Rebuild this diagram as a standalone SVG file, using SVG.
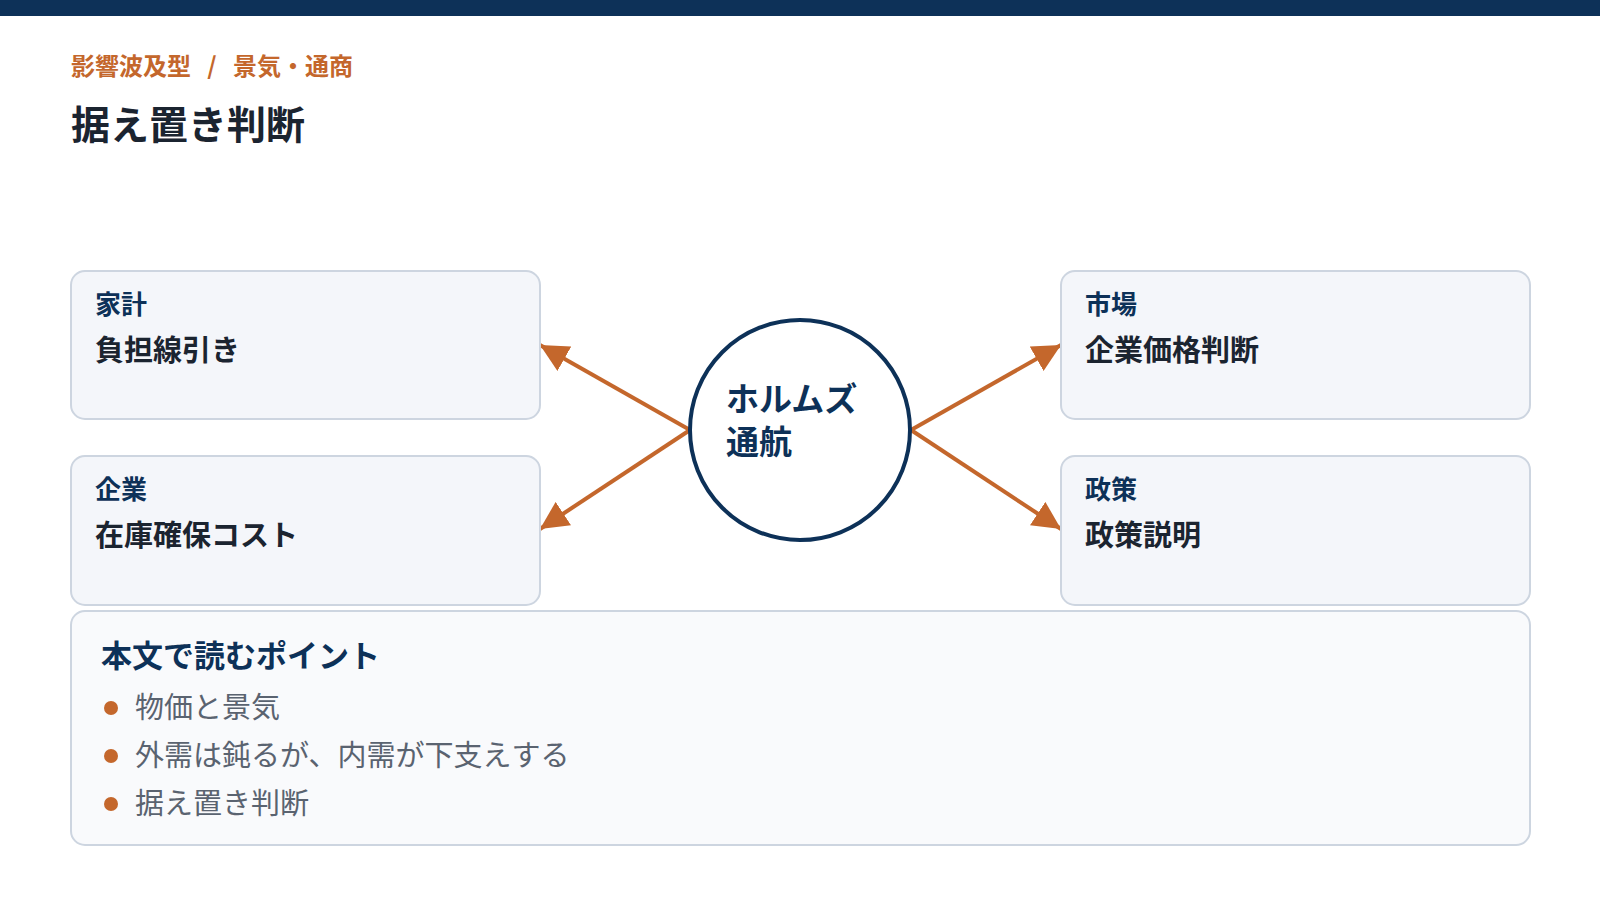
<svg xmlns="http://www.w3.org/2000/svg" width="1600" height="900" viewBox="0 0 1600 900">
<style>
text{font-family:"Noto Sans CJK JP","Noto Sans",sans-serif}
.box{fill:#f4f6fa;stroke:#cdd5e0;stroke-width:2}
.lab{font-size:26px;font-weight:700;fill:#0d3158}
.val{font-size:29px;font-weight:700;fill:#1b2430}
.pt{font-size:29px;fill:#5a6370}
.ln{stroke:#c4672c;stroke-width:4;fill:none}
</style>
<defs><marker id="ah" viewBox="0 0 10 10" refX="10" refY="5" markerWidth="7" markerHeight="7" orient="auto" markerUnits="strokeWidth"><path d="M0,0L10,5L0,10z" fill="#c4672c"/></marker></defs>
<rect x="0" y="0" width="1600" height="16" fill="#0d3158"/>
<text x="71" y="75" font-size="24" font-weight="700" fill="#c4672c" xml:space="preserve">影響波及型   /   景気・通商</text>
<text x="71" y="139" font-size="39" font-weight="700" fill="#1b2430">据え置き判断</text>
<g id="connectors">
<line class="ln" x1="690" y1="430" x2="540" y2="345" marker-end="url(#ah)"/>
<line class="ln" x1="690" y1="430" x2="540" y2="529" marker-end="url(#ah)"/>
<line class="ln" x1="911" y1="430" x2="1061" y2="345" marker-end="url(#ah)"/>
<line class="ln" x1="911" y1="430" x2="1061" y2="529" marker-end="url(#ah)"/>
</g>
<g id="n1"><rect class="box" x="71" y="271" width="469" height="148" rx="14"/><text class="lab" x="95" y="314">家計</text><text class="val" x="95" y="361">負担線引き</text></g>
<g id="n2"><rect class="box" x="71" y="456" width="469" height="149" rx="14"/><text class="lab" x="95" y="499">企業</text><text class="val" x="95" y="546">在庫確保コスト</text></g>
<g id="n3"><rect class="box" x="1061" y="271" width="469" height="148" rx="14"/><text class="lab" x="1085" y="314">市場</text><text class="val" x="1085" y="361">企業価格判断</text></g>
<g id="n4"><rect class="box" x="1061" y="456" width="469" height="149" rx="14"/><text class="lab" x="1085" y="499">政策</text><text class="val" x="1085" y="546">政策説明</text></g>
<g id="hub"><circle cx="800" cy="430" r="110" fill="#fff" stroke="#0d3158" stroke-width="4"/><text x="726" y="411" font-size="33" font-weight="700" fill="#0d3158">ホルムズ</text><text x="726" y="454" font-size="33" font-weight="700" fill="#0d3158">通航</text></g>
<g id="points"><rect x="71" y="611" width="1459" height="234" rx="14" fill="#f9fafc" stroke="#cdd5e0" stroke-width="2"/>
<text x="101" y="667" font-size="31" font-weight="700" fill="#0d3158">本文で読むポイント</text>
<circle cx="111" cy="708" r="7" fill="#c4672c"/><text class="pt" x="135" y="718">物価と景気</text>
<circle cx="111" cy="756" r="7" fill="#c4672c"/><text class="pt" x="135" y="766">外需は鈍るが、内需が下支えする</text>
<circle cx="111" cy="804" r="7" fill="#c4672c"/><text class="pt" x="135" y="814">据え置き判断</text></g>
</svg>
